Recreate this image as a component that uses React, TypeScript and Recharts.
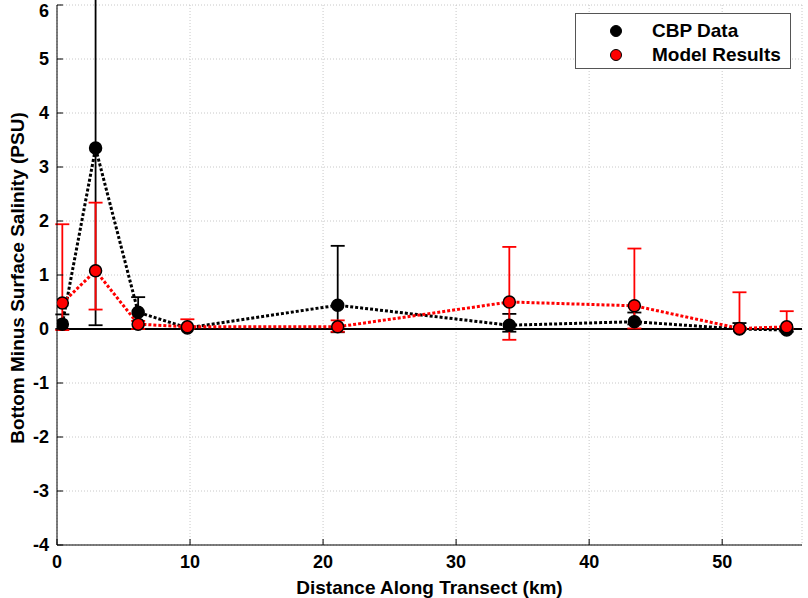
import React from "react";
import {
  CartesianGrid,
  ErrorBar,
  Label,
  Line,
  LineChart,
  ReferenceLine,
  XAxis,
  YAxis,
} from "recharts";

// distance along transect (km)
const distances = [0.4, 2.9, 6.1, 9.8, 21.1, 34.0, 43.4, 51.3, 54.85];

// CBP observations and their error deltas [below, above]
const cbpValues = [0.09, 3.35, 0.31, 0.02, 0.44, 0.07, 0.135, 0.0, -0.02];
const cbpErrors: [number, number][] = [
  [0.09, 0.18],
  [3.28, 3.0],
  [0.31, 0.28],
  [0.02, 0.02],
  [0.5, 1.1],
  [0.12, 0.21],
  [0.05, 0.17],
  [0.0, 0.11],
  [0.03, 0.03],
];

// model results and their error deltas [below, above]
const modelValues = [0.48, 1.08, 0.09, 0.04, 0.04, 0.5, 0.43, 0.01, 0.04];
const modelErrors: [number, number][] = [
  [0.5, 1.46],
  [0.72, 1.26],
  [0.09, 0.06],
  [0.04, 0.14],
  [0.09, 0.12],
  [0.7, 1.02],
  [0.42, 1.06],
  [0.01, 0.67],
  [0.04, 0.29],
];

const xTicks = [0, 10, 20, 30, 40, 50];
const yTicks = [-4, -3, -2, -1, 0, 1, 2, 3, 4, 5, 6];

const series = [
  { key: "cbp", err: "cbpErr", name: "CBP Data", color: "#000000" },
  { key: "model", err: "modelErr", name: "Model Results", color: "#ff0000" },
];

const data = distances.map((x, i) => ({
  x,
  cbp: cbpValues[i],
  cbpErr: cbpErrors[i],
  model: modelValues[i],
  modelErr: modelErrors[i],
}));

const FONT = "'Liberation Sans', Arial, sans-serif";
const tickStyle = { fill: "#000", fontSize: 18, fontWeight: 700, fontFamily: FONT };
const labelStyle = { fill: "#000", fontSize: 19, fontWeight: 700, fontFamily: FONT };

function LegendBox() {
  return (
    <div
      style={{
        position: "absolute",
        left: 575,
        top: 13,
        width: 216,
        height: 56,
        boxSizing: "border-box",
        border: "1px solid #555",
        background: "#fff",
        fontFamily: FONT,
        fontWeight: 700,
        fontSize: 19,
        color: "#000",
      }}
    >
      {series.map((s, i) => (
        <div
          key={s.key}
          style={{
            position: "absolute",
            left: 34,
            top: 5 + i * 24,
            display: "flex",
            alignItems: "center",
            height: 24,
          }}
        >
          <span
            style={{
              width: 12,
              height: 12,
              borderRadius: "50%",
              background: s.color,
              border: "1px solid #000",
              boxSizing: "border-box",
              display: "inline-block",
            }}
          />
          <span style={{ marginLeft: 30 }}>{s.name}</span>
        </div>
      ))}
    </div>
  );
}

export default function App() {
  return (
    <div style={{ position: "absolute", left: 0, top: 0, width: 808, height: 598, background: "#fff" }}>
      <LineChart width={808} height={598} data={data} margin={{ top: 5, right: 6, bottom: 0, left: 0 }}>
        <CartesianGrid stroke="#c8c8c8" strokeDasharray="1 2" />
        <XAxis
          dataKey="x"
          type="number"
          domain={[0, 56]}
          ticks={xTicks}
          allowDataOverflow
          height={53}
          tick={tickStyle}
          tickSize={-6}
          tickMargin={16}
          stroke="#000"
        >
          <Label value="Distance Along Transect (km)" position="insideBottom" offset={4} style={labelStyle} />
        </XAxis>
        <XAxis
          xAxisId="top"
          orientation="top"
          type="number"
          domain={[0, 56]}
          ticks={xTicks}
          height={0}
          tick={false}
          tickSize={-6}
          stroke="#000"
        />
        <YAxis
          type="number"
          domain={[-4, 6]}
          ticks={yTicks}
          allowDataOverflow
          width={57}
          tick={tickStyle}
          tickSize={-6}
          tickMargin={14}
          stroke="#000"
        >
          <Label
            content={({ viewBox }: any) => {
              const cx = 17;
              const cy = viewBox.y + viewBox.height / 2 + 3;
              return (
                <text
                  x={cx}
                  y={cy}
                  transform={`rotate(-90, ${cx}, ${cy})`}
                  textAnchor="middle"
                  dominantBaseline="central"
                  style={labelStyle}
                >
                  Bottom Minus Surface Salinity (PSU)
                </text>
              );
            }}
          />
        </YAxis>
        <YAxis
          yAxisId="right"
          orientation="right"
          type="number"
          domain={[-4, 6]}
          ticks={yTicks}
          width={0}
          tick={false}
          tickSize={-6}
          stroke="#000"
        />
        <ReferenceLine y={0} stroke="#000" strokeWidth={2} />
        {series.map((s) => (
          <Line
            key={s.key}
            dataKey={s.key}
            name={s.name}
            type="linear"
            stroke={s.color}
            strokeWidth={3}
            strokeDasharray="3 2"
            dot={{ r: 6, fill: s.color, stroke: "#000", strokeWidth: 1.5, strokeDasharray: "" }}
            activeDot={false}
            isAnimationActive={false}
          >
            <ErrorBar dataKey={s.err} direction="y" width={7} stroke={s.color} strokeWidth={1.8} />
          </Line>
        ))}
      </LineChart>
      <LegendBox />
    </div>
  );
}
